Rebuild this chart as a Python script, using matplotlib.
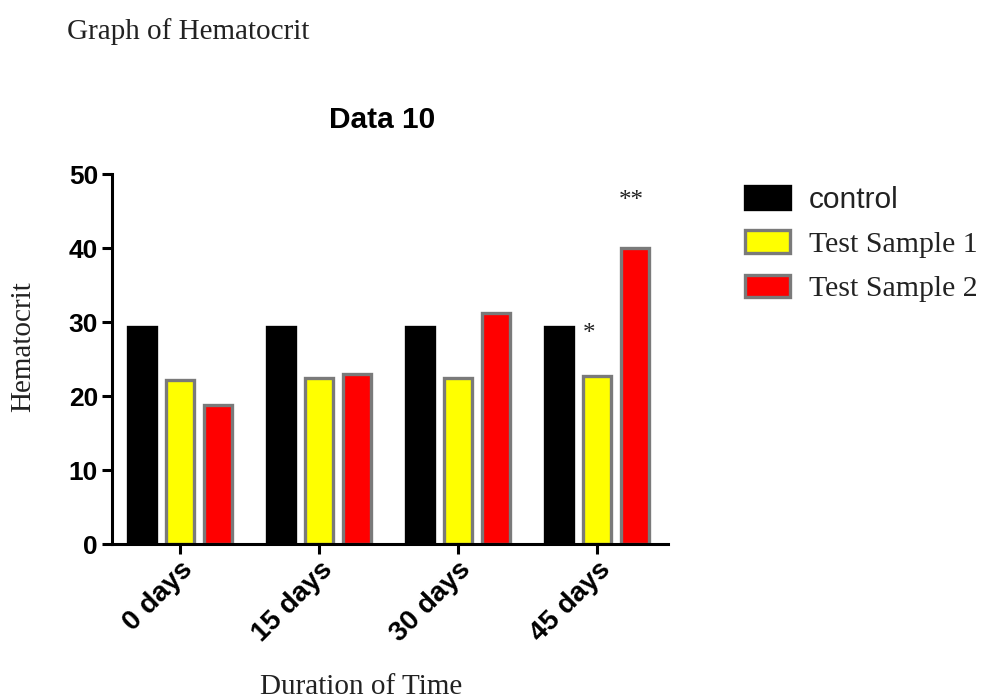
import matplotlib
matplotlib.use("Agg")
import matplotlib.pyplot as plt
import numpy as np

# Data
durations = ["0 days", "15 days", "30 days", "45 days"]
series_names = ["control", "Test Sample 1", "Test Sample 2"]
control = [29.3, 29.3, 29.3, 29.3]
test_sample_1 = [22.1, 22.4, 22.4, 22.7]
test_sample_2 = [18.8, 23.0, 31.2, 40.0]
y_ticks = [0, 10, 20, 30, 40, 50]

# significance marks: (group index, series index, label, height)
marks = [(3, 0, "*", 28.4), (3, 2, "**", 46.3)]

SANS = "Liberation Sans"
SERIF = "Liberation Serif"
EDGE = "#7a7a7a"

fig = plt.figure(figsize=(9.88, 7.0), dpi=100)
W, H = 988, 700
ax = fig.add_axes([112 / W, 1 - 544 / H, 556 / W, 370 / H])

x = np.arange(len(durations))
width = 0.2
offsets = [-0.275, 0.0, 0.275]
values = [control, test_sample_1, test_sample_2]
faces = ["black", "#ffff00", "#ff0000"]
edges = ["black", EDGE, EDGE]

for vals, off, fc, ec, name in zip(values, offsets, faces, edges, series_names):
    ax.bar(x + off, vals, width, color=fc, edgecolor=ec, linewidth=2.4, label=name)

for gi, si, txt, h in marks:
    xpos = x[gi] + offsets[si]
    if si == 0:
        xpos += 0.22
    else:
        xpos -= 0.03
    ax.text(xpos, h, txt, ha="center", va="center", fontsize=18, family=SERIF, color="#222222")

ax.set_xlim(-0.49, 3.51)
ax.set_ylim(0, 50)
ax.set_yticks(y_ticks)
ax.set_xticks(x)
ax.set_xticklabels(durations, rotation=45, ha="right", rotation_mode="anchor")

for s in ["top", "right"]:
    ax.spines[s].set_visible(False)
for s in ["left", "bottom"]:
    ax.spines[s].set_linewidth(2.2)
ax.tick_params(width=2.2, length=7, pad=3)
ax.tick_params(axis="y", labelsize=19)
ax.tick_params(axis="x", labelsize=20, pad=2)
for lab in ax.get_xticklabels() + ax.get_yticklabels():
    lab.set_family(SANS)
    lab.set_fontweight("bold")

fig.text(67 / W, 1 - 39 / H, "Graph of Hematocrit", family=SERIF, fontsize=21,
         color="#222222", va="baseline")
fig.text(382 / W, 1 - 128 / H, "Data 10", family=SANS, fontsize=21.5,
         fontweight="bold", ha="center", va="baseline")
fig.text(23 / W, 1 - 347 / H, "Hematocrit", family=SERIF, fontsize=21,
         rotation=90, ha="center", va="center", color="#222222")
fig.text(361 / W, 1 - 694 / H, "Duration of Time", family=SERIF, fontsize=21,
         ha="center", va="baseline", color="#222222")

leg = ax.legend(loc="upper left", bbox_to_anchor=(745 / W, 1 - 186 / H),
                bbox_transform=fig.transFigure, frameon=False, fontsize=21.5,
                handlelength=1.5, handleheight=0.8, handletextpad=0.65,
                labelspacing=0.55, borderaxespad=0, borderpad=0)
for i, t in enumerate(leg.get_texts()):
    t.set_family(SANS if i == 0 else SERIF)
    t.set_color("#222222")

fig.savefig("out.png", dpi=100)
